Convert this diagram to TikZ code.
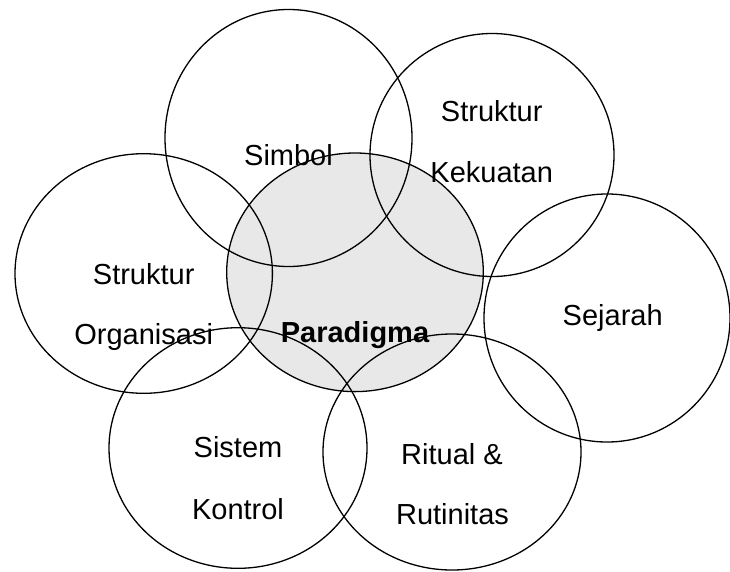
\documentclass[tikz,border=0pt]{standalone}
\usepackage{fontspec}
\setmainfont{Liberation Sans}
\begin{document}
\begin{tikzpicture}[x=1pt,y=-1pt,
  ring/.style={draw=black,line width=1.3pt},
  core/.style={fill=coregray},
  lbl/.style={anchor=base,inner sep=0pt,font=\fontsize{29}{34}\selectfont},
  lblb/.style={lbl,font=\fontsize{29}{34}\selectfont\bfseries}]
\definecolor{coregray}{RGB}{232,232,232}
\useasboundingbox (0,0) rectangle (730,571);
% gray core
\fill[core] (355,272.3) ellipse [x radius=128.3pt, y radius=119.3pt];
% labels
\node[lbl] (simbol) at (288.5,165) {Simbol};
\node[lbl] (sk1) at (491.7,121.7) {Struktur};
\node[lbl] (sk2) at (491.7,182.3) {Kekuatan};
\node[lbl] (so1) at (143.7,284) {Struktur};
\node[lbl] (so2) at (143.7,344) {Organisasi};
\node[lblb] (para) at (355,342.7) {Paradigma};
\node[lbl] (sej) at (612.7,325) {Sejarah};
\node[lbl] (ks1) at (238,457.7) {Sistem};
\node[lbl] (ks2) at (238,519) {Kontrol};
\node[lbl] (rr1) at (452,464) {Ritual \&};
\node[lbl] (rr2) at (452.5,524) {Rutinitas};
% outlines
\draw[ring] (288.5,138) ellipse [x radius=123.5pt, y radius=128.5pt];
\draw[ring] (492,155) ellipse [x radius=122pt, y radius=121.5pt];
\draw[ring] (143.7,273.5) ellipse [x radius=128.7pt, y radius=119.8pt];
\draw[ring] (355,272.3) ellipse [x radius=128.3pt, y radius=119.3pt];
\draw[ring] (607,318) ellipse [x radius=123pt, y radius=124pt];
\draw[ring] (238,448) ellipse [x radius=129pt, y radius=120.3pt];
\draw[ring] (452,452) ellipse [x radius=129pt, y radius=118pt];
\end{tikzpicture}
\end{document}
